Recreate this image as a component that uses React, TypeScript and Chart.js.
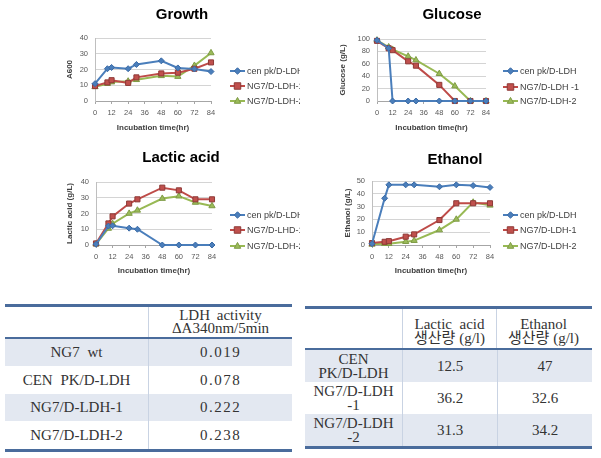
import React, { useEffect, useRef } from 'react';
import { Chart, registerables } from 'chart.js';

Chart.register(...registerables);

// ---------- data ----------
const hours = [0, 9, 12, 24, 30, 48, 60, 72, 84];

const growthCen = [11, 20.5, 21.3, 20.5, 23.2, 25.5, 21, 20.3, 18.7];
const growthNg1 = [9.5, 11.8, 13.2, 11.5, 15, 17.5, 18, 20.5, 24.5];
const growthNg2 = [9, 11, 12, 12.5, 13.5, 16, 15.5, 22.5, 30.5];

const glucoseCen = [98, 85, 0, 0, 0, 0, 0, 0, 0];
const glucoseNg1 = [97, 85, 82, 64, 57, 26, 0, 0, 0];
const glucoseNg2 = [98, 87, 83, 72, 66, 44, 24, 0, 0];

const lacticCen = [0.5, 12, 12.2, 10.7, 10, 0, 0, 0, 0];
const lacticNg1 = [1, 13.7, 18.2, 26.3, 29, 36.4, 34.7, 29, 29];
const lacticNg2 = [0.5, 10.5, 13.5, 20, 22, 29.5, 31, 27, 24.8];

const ethanolCen = [1, 36.5, 47, 47, 47, 45.5, 47, 46.4, 45];
const ethanolNg1 = [1.5, 2.5, 3, 6.5, 8.3, 19.5, 32.6, 32.6, 32.6];
const ethanolNg2 = [0.5, 1, 1, 2.6, 3.4, 11.7, 20, 33.3, 31];

const legendA = ['cen pk/D-LDH', 'NG7/D-LDH-1', 'NG7/D-LDH-2'];
const legendGlucose = ['cen pk/D-LDH', 'NG7/D-LDH -1', 'NG7/D-LDH-2'];
const legendLactic = ['cen pk/D-LDH', 'NG7/D-LHD-1', 'NG7/D-LDH-2'];

const xAxisTitle = 'Incubation time(hr)';

const ldhStrains = ['NG7 wt', 'CEN PK/D-LDH', 'NG7/D-LDH-1', 'NG7/D-LDH-2'];
const ldhActivity = ['0.019', '0.078', '0.222', '0.238'];
const ldhHeader = ['LDH activity', '\u0394A340nm/5min'];

const prodStrains = [['CEN', 'PK/D-LDH'], ['NG7/D-LDH', '-1'], ['NG7/D-LDH', '-2']];
const prodLactic = ['12.5', '36.2', '31.3'];
const prodEthanol = ['47', '32.6', '34.2'];
const prodHeaderLactic = ['Lactic  acid', '생산량 (g/l)'];
const prodHeaderEthanol = ['Ethanol', '생산량 (g/l)'];

// ---------- styles ----------
const COLORS = ['#4A7EBB', '#BE4B48', '#98B954'];
const MARKER_FILL = ['#4A7EBB', '#C0504D', '#9BBB59'];
const MARKER_BORDER = ['#3A6AA5', '#8E3A37', '#7E9B45'];
const MARKER_STYLE = ['rectRot', 'rect', 'triangle'];
const MARKER_R = [3, 3.6, 3.6];
const SANS = '"Liberation Sans", Arial, sans-serif';

type Spec = {
  left: number; top: number; W: number; H: number;
  plotL: number; plotR: number; plotT: number; plotB: number;
  title: string; titleX: number; titleY: number;
  legendX: number; legendY: number[]; legend: string[];
  yTitle: string; yTitleX: number; xTitleY: number;
  yMax: number; yStep: number;
  series: number[][];
};

const specs: Spec[] = [
  {
    left: 0, top: 0, W: 300, H: 140,
    plotL: 95, plotR: 211, plotT: 38, plotB: 101,
    title: 'Growth', titleX: 182, titleY: 15,
    legendX: 230, legendY: [71, 86, 101], legend: legendA,
    yTitle: 'A600', yTitleX: 70, xTitleY: 128,
    yMax: 40, yStep: 10,
    series: [growthCen, growthNg1, growthNg2],
  },
  {
    left: 300, top: 0, W: 301, H: 140,
    plotL: 77, plotR: 186, plotT: 39, plotB: 101,
    title: 'Glucose', titleX: 152, titleY: 15,
    legendX: 203, legendY: [71, 87, 101], legend: legendGlucose,
    yTitle: 'Glucose (g/L)', yTitleX: 43, xTitleY: 128,
    yMax: 100, yStep: 20,
    series: [glucoseCen, glucoseNg1, glucoseNg2],
  },
  {
    left: 0, top: 140, W: 300, H: 140,
    plotL: 96, plotR: 212, plotT: 42, plotB: 105,
    title: 'Lactic acid', titleX: 181, titleY: 18,
    legendX: 230, legendY: [75, 90, 106], legend: legendLactic,
    yTitle: 'Lactic acid (g/L)', yTitleX: 70, xTitleY: 131,
    yMax: 40, yStep: 10,
    series: [lacticCen, lacticNg1, lacticNg2],
  },
  {
    left: 300, top: 140, W: 301, H: 140,
    plotL: 72, plotR: 190, plotT: 41, plotB: 105,
    title: 'Ethanol', titleX: 155, titleY: 20,
    legendX: 203, legendY: [75, 90, 106], legend: legendA,
    yTitle: 'Ethanol (g/L)', yTitleX: 48, xTitleY: 131,
    yMax: 50, yStep: 10,
    series: [ethanolCen, ethanolNg1, ethanolNg2],
  },
];

function drawMarker(ctx: CanvasRenderingContext2D, style: string, x: number, y: number, r: number, fill: string, stroke: string) {
  ctx.beginPath();
  if (style === 'rectRot') {
    ctx.moveTo(x, y - r * 1.2); ctx.lineTo(x + r * 1.2, y); ctx.lineTo(x, y + r * 1.2); ctx.lineTo(x - r * 1.2, y);
  } else if (style === 'rect') {
    ctx.rect(x - r, y - r, r * 2, r * 2);
  } else {
    ctx.moveTo(x, y - r * 1.1); ctx.lineTo(x + r, y + r * 0.7); ctx.lineTo(x - r, y + r * 0.7);
  }
  ctx.closePath();
  ctx.fillStyle = fill; ctx.fill();
  ctx.strokeStyle = stroke; ctx.lineWidth = 1; ctx.stroke();
}

function LineChart({ spec }: { spec: Spec }) {
  const ref = useRef<HTMLCanvasElement>(null);
  useEffect(() => {
    const s = spec;
    const padL = s.yTitleX - 4.8 - 2;
    const decor = {
      id: 'decor',
      afterDraw(chart: any) {
        const ctx: CanvasRenderingContext2D = chart.ctx;
        ctx.save();
        ctx.font = 'bold 15px ' + SANS;
        ctx.fillStyle = '#000';
        ctx.textAlign = 'center';
        ctx.textBaseline = 'middle';
        ctx.fillText(s.title, s.titleX, s.titleY);
        chart.data.datasets.forEach((ds: any, i: number) => {
          const y = s.legendY[i];
          const x0 = s.legendX;
          ctx.beginPath();
          ctx.strokeStyle = COLORS[i];
          ctx.lineWidth = 2;
          ctx.moveTo(x0, y); ctx.lineTo(x0 + 15, y); ctx.stroke();
          drawMarker(ctx, MARKER_STYLE[i], x0 + 7.5, y, MARKER_R[i] * 0.9, MARKER_FILL[i], MARKER_BORDER[i]);
          ctx.font = '9px ' + SANS;
          ctx.fillStyle = '#404040';
          ctx.textAlign = 'left';
          ctx.fillText(ds.label, x0 + 17, y + 0.5);
        });
        ctx.restore();
      },
    };
    const chart = new Chart(ref.current as HTMLCanvasElement, {
      type: 'line',
      data: {
        datasets: s.series.map((vals, i) => ({
          label: s.legend[i],
          data: hours.map((h, j) => ({ x: h, y: vals[j] })),
          borderColor: COLORS[i],
          backgroundColor: MARKER_FILL[i],
          borderWidth: 2,
          pointStyle: MARKER_STYLE[i] as any,
          pointRadius: MARKER_R[i],
          pointBackgroundColor: MARKER_FILL[i],
          pointBorderColor: MARKER_BORDER[i],
          pointBorderWidth: 1,
          tension: 0,
          clip: false as any,
        })),
      },
      options: {
        responsive: false,
        animation: false,
        devicePixelRatio: 1,
        layout: { padding: { left: padL, right: s.W - s.plotR, top: s.plotT, bottom: 0 } },
        plugins: { legend: { display: false }, title: { display: false }, tooltip: { enabled: false } },
        scales: {
          x: {
            type: 'linear', min: 0, max: 84,
            ticks: { stepSize: 12, font: { family: SANS, size: 7.5 }, color: '#595959', padding: 4, maxRotation: 0, autoSkip: false },
            grid: { drawOnChartArea: false, drawTicks: true, tickLength: 3, color: '#a6a6a6' },
            border: { color: '#a6a6a6' },
            title: { display: true, text: xAxisTitle, font: { family: SANS, size: 8, weight: 'bold' }, color: '#404040', padding: { top: 0, bottom: s.H - 4.8 - s.xTitleY } },
            afterFit: (sc: any) => { sc.height = s.H - s.plotB; },
          },
          y: {
            min: 0, max: s.yMax,
            ticks: { stepSize: s.yStep, font: { family: SANS, size: 7.5 }, color: '#595959', padding: 7 },
            grid: { color: '#d4d4d4', drawTicks: false },
            border: { color: '#bfbfbf' },
            title: { display: true, text: s.yTitle, font: { family: SANS, size: 8, weight: 'bold' }, color: '#404040', padding: { top: 2, bottom: 0 } },
            afterFit: (sc: any) => { sc.width = s.plotL - padL; },
          },
        },
      } as any,
      plugins: [decor],
    });
    return () => chart.destroy();
  }, [spec]);
  return (
    <canvas
      ref={ref}
      width={spec.W}
      height={spec.H}
      style={{ position: 'absolute', left: spec.left, top: spec.top, width: spec.W, height: spec.H }}
    />
  );
}

const BORDER = '#4A6C9C';
const SHADE = '#E3E8F1';
const DIVIDER = '#C9D3E3';
const SERIF = '"Liberation Serif", "Noto Sans CJK KR", serif';

function LdhTable() {
  const rowH = [27, 28, 27, 28];
  return (
    <div style={{ position: 'absolute', left: 5, top: 304, width: 287, fontFamily: SERIF, fontSize: 15, color: '#333' }}>
      <div style={{ height: 3, background: BORDER }} />
      <div style={{ display: 'flex', height: 30 }}>
        <div style={{ width: 143 }} />
        <div style={{ width: 143, borderLeft: `1px solid ${DIVIDER}`, display: 'flex', flexDirection: 'column', justifyContent: 'center', alignItems: 'center', lineHeight: '13px' }}>
          <div style={{ wordSpacing: 3 }}>{ldhHeader[0]}</div>
          <div>{ldhHeader[1]}</div>
        </div>
      </div>
      <div style={{ height: 2, background: BORDER }} />
      {ldhStrains.map((name, i) => (
        <div key={i} style={{ display: 'flex', height: rowH[i], background: i % 2 === 0 ? SHADE : '#fff', alignItems: 'center' }}>
          <div style={{ width: 143, textAlign: 'center', wordSpacing: 4 }}>{name}</div>
          <div style={{ width: 143, height: '100%', borderLeft: `1px solid ${DIVIDER}`, display: 'flex', alignItems: 'center', justifyContent: 'center', letterSpacing: 1.5 }}>{ldhActivity[i]}</div>
        </div>
      ))}
      <div style={{ height: 3, background: BORDER }} />
    </div>
  );
}

function ProdTable() {
  const cell = (w: number, divider: boolean, content: React.ReactNode, extra: any = {}) => (
    <div style={{ width: w, height: '100%', borderLeft: divider ? `1px solid ${DIVIDER}` : 'none', display: 'flex', flexDirection: 'column', alignItems: 'center', justifyContent: 'center', lineHeight: '14px', ...extra }}>
      {content}
    </div>
  );
  return (
    <div style={{ position: 'absolute', left: 305, top: 306, width: 287, fontFamily: SERIF, fontSize: 15, color: '#333' }}>
      <div style={{ height: 3, background: BORDER }} />
      <div style={{ display: 'flex', height: 39 }}>
        {cell(97, false, null)}
        {cell(94, true, <>
          <div style={{ whiteSpace: 'pre' }}>{prodHeaderLactic[0]}</div>
          <div style={{ whiteSpace: 'pre' }}>{prodHeaderLactic[1]}</div>
        </>, { justifyContent: 'flex-end', paddingBottom: 3, boxSizing: 'border-box' })}
        {cell(94, true, <>
          <div>{prodHeaderEthanol[0]}</div>
          <div style={{ whiteSpace: 'pre' }}>{prodHeaderEthanol[1]}</div>
        </>, { justifyContent: 'flex-end', paddingBottom: 3, boxSizing: 'border-box' })}
      </div>
      <div style={{ height: 2, background: BORDER }} />
      {prodStrains.map((lines, i) => (
        <div key={i} style={{ display: 'flex', height: 32, background: i % 2 === 0 ? SHADE : '#fff' }}>
          {cell(97, false, <>{lines.map((l, k) => <div key={k}>{l}</div>)}</>)}
          {cell(94, true, prodLactic[i])}
          {cell(94, true, prodEthanol[i])}
        </div>
      ))}
      <div style={{ height: 3, background: BORDER }} />
    </div>
  );
}

export default function App() {
  return (
    <div style={{ position: 'absolute', left: 0, top: 0, width: 601, height: 458, background: '#fff', overflow: 'hidden' }}>
      {specs.map((s, i) => <LineChart key={i} spec={s} />)}
      <LdhTable />
      <ProdTable />
    </div>
  );
}
